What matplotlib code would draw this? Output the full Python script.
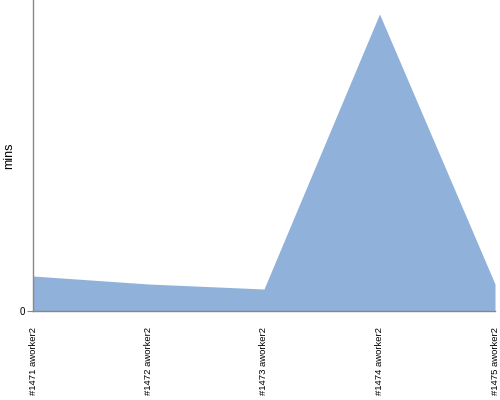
import matplotlib
matplotlib.use("Agg")
import matplotlib.pyplot as plt

labels = ["#1471 aworker2", "#1472 aworker2", "#1473 aworker2", "#1474 aworker2", "#1475 aworker2"]
values = [3.5, 2.7, 2.2, 29.7, 2.7]

fig = plt.figure(figsize=(5, 4), dpi=100)
ax = fig.add_axes([0.066, 0.2225, 0.924, 0.7775])
x = list(range(len(labels)))
ax.fill_between(x, values, 0, color="#8fb1da", linewidth=0)
ax.set_xlim(0, len(labels) - 1)
ax.set_ylim(0, 31.1)
ax.set_xticks(x)
ax.set_xticklabels(labels, rotation=90, fontsize=6.8,
                   family=["Liberation Sans", "DejaVu Sans"])
ax.set_yticks([0])
ax.set_yticklabels(["0"], fontsize=7, family=["Liberation Sans", "DejaVu Sans"])
ax.tick_params(axis="x", length=0, pad=11.5)
ax.tick_params(axis="y", length=4, color="#888888", pad=2)
for s in ["top", "right"]:
    ax.spines[s].set_visible(False)
for s in ["left", "bottom"]:
    ax.spines[s].set_color("#888888")
    ax.spines[s].set_linewidth(1)
ax.set_ylabel("mins", fontsize=9, family=["Liberation Sans", "DejaVu Sans"])
ax.yaxis.set_label_coords(-0.038, 0.5)
fig.savefig("out.png", dpi=100)
